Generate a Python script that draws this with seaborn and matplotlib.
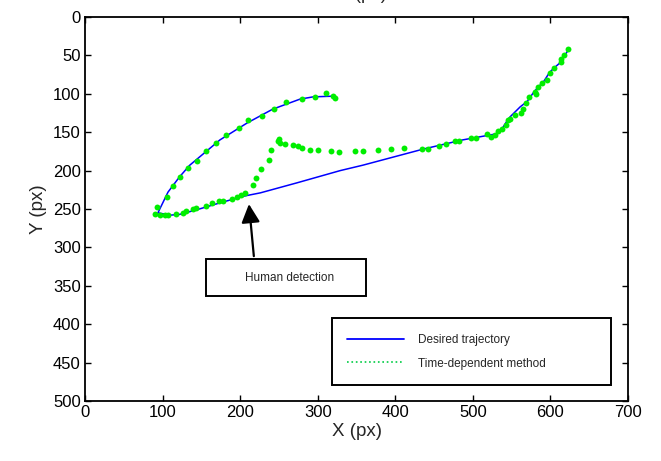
import matplotlib
matplotlib.use("Agg")
import matplotlib.pyplot as plt
import seaborn as sns
from matplotlib.lines import Line2D
from matplotlib.patches import Rectangle

# desired trajectory (blue line)
desired_x = [322, 294, 277, 242, 209, 174, 135, 122, 107, 94, 110, 122, 144, 174, 206, 226, 273, 329, 358,
             436, 487, 531, 538, 543, 548, 561, 570, 577, 585, 590, 599, 605, 612, 623]
desired_y = [103, 104, 107, 120, 138, 160, 193, 208, 228, 255, 258, 257, 251, 242, 233, 229, 216, 200, 193,
             172, 160, 152, 145, 137, 130, 117, 110, 100, 90, 86, 72, 66, 60, 43]

# time-dependent method (green dots)
method_x = [322, 320, 311, 296, 280, 259, 244, 228, 210, 198, 182, 169, 156, 145, 133, 122, 114, 106, 93, 90,
            97, 103, 107, 117, 126, 130, 139, 143, 156, 164, 173, 178, 189, 196, 201, 206, 216, 220, 227, 237,
            240, 249, 250, 252, 258, 268, 274, 280, 290, 301, 317, 328, 348, 358, 378, 395, 411, 434, 442, 456,
            466, 477, 482, 497, 504, 518, 523, 528, 532, 538, 543, 545, 548, 554, 562, 564, 569, 572, 580, 581,
            584, 589, 596, 600, 605, 614, 614, 618, 623]
method_y = [106, 103, 99, 104, 107, 111, 120, 129, 134, 145, 154, 164, 174, 187, 196, 208, 220, 235, 247, 257,
            258, 258, 258, 256, 255, 253, 250, 249, 246, 242, 240, 240, 237, 234, 232, 229, 219, 210, 198, 186,
            173, 161, 159, 164, 165, 167, 168, 171, 173, 173, 175, 176, 175, 175, 173, 172, 171, 172, 172, 168,
            165, 162, 161, 158, 157, 152, 156, 153, 149, 146, 140, 134, 133, 128, 125, 120, 112, 104, 98, 100,
            91, 86, 82, 73, 66, 59, 55, 49, 42]

labels = ["Desired trajectory", "Time-dependent method"]
annotation = "Human detection"

sns.set_style("ticks")
plt.rcParams['font.family'] = ['Liberation Sans', 'DejaVu Sans']
plt.rcParams['xtick.direction'] = 'in'
plt.rcParams['ytick.direction'] = 'in'

fig = plt.figure(figsize=(6.61, 4.61), dpi=100)
ax = fig.add_axes([85 / 661, 1 - 401 / 461, 543 / 661, 384 / 461])

sns.lineplot(x=desired_x, y=desired_y, sort=False, estimator=None, color='#0000ff', lw=1.1, ax=ax)
sns.scatterplot(x=method_x, y=method_y, color='#00ee00', s=18, linewidth=0, ax=ax, zorder=3)

ax.set_xlim(0, 700)
ax.set_ylim(500, 0)
ax.set_xticks(range(0, 701, 100))
ax.set_yticks(range(0, 501, 50))
ax.tick_params(top=True, right=True, length=4, width=1, labelsize=12, colors='black', pad=3)
for s in ax.spines.values():
    s.set_visible(True)
    s.set_linewidth(1.3)
    s.set_color('black')
ax.set_xlabel("X (px)", fontsize=13.5, labelpad=2)
ax.set_ylabel("Y (px)", fontsize=13.5, labelpad=4)

# annotation box with arrow
ax.add_patch(Rectangle((156, 315), 206, 48, fill=False, edgecolor='black', lw=1.4, zorder=4))
ax.text(264, 340, annotation, ha='center', va='center', fontsize=8.5, zorder=5)
ax.annotate("", xy=(211, 240), xytext=(218, 315),
            arrowprops=dict(arrowstyle='-|>', mutation_scale=28, lw=1.6, color='black'))

handles = [Line2D([], [], color='#0000ff', lw=1.3),
           Line2D([], [], color='#00cc44', lw=1.2, ls=':')]
leg = ax.legend(handles, labels, loc='lower left', bbox_to_anchor=(0.455, 0.042, 0.514, 0.169), mode='expand',
                fontsize=8.5, frameon=True, fancybox=False, framealpha=1, edgecolor='black',
                borderpad=1.3, labelspacing=1.0, handlelength=4.8, handletextpad=1.2, borderaxespad=0)
leg.get_frame().set_linewidth(1.4)

# cut-off label from the figure above
fig.text(362 / 661, 1 + 1 / 461, "X (px)", ha='center', va='baseline', fontsize=13.5)

fig.savefig("out.png", dpi=100)
